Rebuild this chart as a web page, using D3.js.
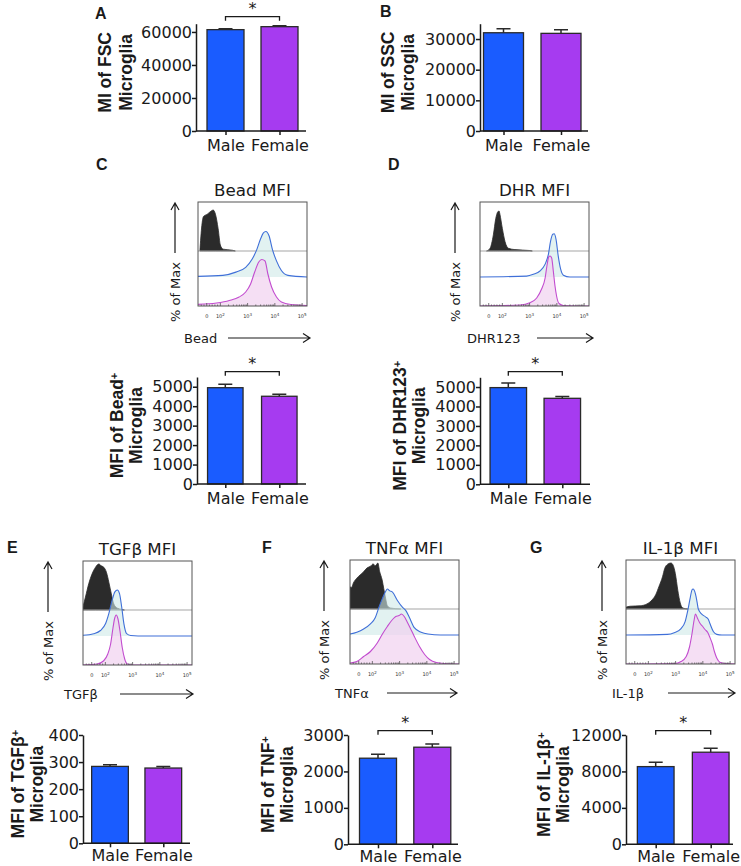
<!DOCTYPE html>
<html><head><meta charset="utf-8">
<script src="https://cdn.jsdelivr.net/npm/d3@7"></script>
<style>body{margin:0;background:#fff} svg{display:block}</style>
</head><body>
<svg id="fig" width="741" height="866"></svg>
<script>
// ---------------- DATA ----------------
const groups = ["Male", "Female"];
const barColors = ["#1a5cff", "#a63bf0"];

// bar charts (mean, SEM)
const fscMean = [61400, 63200], fscErr = [600, 500];
const sscMean = [32050, 31850], sscErr = [1300, 1200];
const beadMean = [4950, 4510], beadErr = [180, 100];
const dhrMean = [4970, 4420], dhrErr = [240, 90];
const tgfMean = [284, 278], tgfErr = [6, 6];
const tnfMean = [2363, 2665], tnfErr = [110, 90];
const il1Mean = [8530, 10110], il1Err = [480, 440];

const fscTicks = [0, 20000, 40000, 60000];
const sscTicks = [0, 10000, 20000, 30000];
const mfiTicks = [0, 1000, 2000, 3000, 4000, 5000];
const tgfTicks = [0, 100, 200, 300, 400];
const tnfTicks = [0, 1000, 2000, 3000];
const il1Ticks = [0, 4000, 8000, 12000];

// histogram axis (display decades; "0" sits at 1.5)
const histTickVals = [1.5, 2, 3, 4, 5];
const histTickLabels = ["0", "2", "3", "4", "5"];

// histograms: [display decade, % of max]
const histC_black = [[1.25,0],[1.32,55],[1.38,75],[1.52,80],[1.62,85],[1.74,89],[1.82,80],[1.92,48],[2.0,13],[2.1,4],[2.45,1.5],[2.55,0]];
const histC_blue = [[1.18,1.4],[2.09,3.5],[2.57,10.6],[2.93,21],[3.17,39],[3.34,60],[3.47,82],[3.58,96],[3.67,99],[3.79,89],[3.91,60],[4.06,35],[4.24,14],[4.48,3.5],[5.19,0]];
const histC_pink = [[1.18,3.3],[1.86,6],[2.33,11],[2.69,18],[2.93,28],[3.11,44],[3.26,68],[3.41,88],[3.52,93],[3.64,90],[3.74,65],[3.88,38],[4.06,18],[4.24,8],[4.59,3],[5.19,1]];

const histD_black = [[1.42,0],[1.55,6],[1.67,35],[1.76,71],[1.83,85],[1.88,87],[1.91,80],[2.0,49],[2.1,20],[2.22,6],[2.46,3],[3.01,1],[3.1,0]];
const histD_blue = [[1.18,0],[2.89,2],[3.14,6],[3.38,13],[3.57,28],[3.69,49],[3.77,78],[3.85,93],[3.90,94],[3.97,82],[4.05,46],[4.14,17],[4.24,4],[4.48,0],[5.19,0]];
const histD_pink = [[1.18,0],[2.65,2],[3.01,6.5],[3.26,16],[3.44,34],[3.57,56],[3.63,78],[3.71,99],[3.75,100],[3.81,96],[3.87,70],[3.93,41],[3.99,20],[4.08,5],[4.24,1],[5.19,0]];

const histE_black = [[1.18,7],[1.27,28],[1.39,57],[1.51,78],[1.64,93],[1.76,100],[1.85,96],[1.94,93],[2.04,82],[2.13,60],[2.22,35],[2.31,13],[2.44,4],[2.62,1],[2.7,0]];
const histE_blue = [[1.18,1.5],[1.57,5],[1.82,12],[2.01,27],[2.13,49],[2.25,78],[2.35,96],[2.44,100],[2.52,92],[2.60,63],[2.68,27],[2.78,5],[2.93,1],[3.2,0],[5.19,0]];
const histE_pink = [[1.18,0],[1.70,2],[1.94,8.5],[2.09,22],[2.19,41],[2.28,74],[2.34,93],[2.40,100],[2.46,93],[2.54,67],[2.62,35],[2.71,12],[2.81,2],[3.05,0],[5.19,0]];

const histF_black = [[1.18,48],[1.24,47],[1.30,56],[1.43,67],[1.55,74],[1.68,81],[1.80,89],[1.93,93],[2.03,98],[2.11,94],[2.20,100],[2.27,81],[2.36,63],[2.42,44],[2.49,22],[2.55,7],[2.67,2],[3.05,0]];
const histF_blue = [[1.18,2],[1.43,6],[1.68,13],[1.93,24],[2.11,38],[2.24,60],[2.36,78],[2.49,95],[2.55,100],[2.64,96],[2.74,93],[2.92,75],[3.11,60],[3.23,53],[3.36,38],[3.54,16],[3.79,6],[4.04,2],[4.5,0],[5.18,0]];
const histF_pink = [[1.18,2],[1.43,5],[1.68,15],[1.93,25],[2.18,42],[2.36,59],[2.55,75],[2.74,89],[2.86,95],[2.98,97],[3.07,100],[3.17,95],[3.27,85],[3.39,72],[3.54,55],[3.73,35],[3.92,19],[4.10,9],[4.35,3],[4.66,1],[5.18,0]];

const histG_black = [[1.18,4],[1.33,6],[1.70,7],[1.95,11],[2.14,20],[2.27,31],[2.39,49],[2.52,70],[2.60,88],[2.70,97],[2.83,100],[2.91,95],[2.99,77],[3.08,41],[3.17,13],[3.27,2],[3.45,0]];
const histG_blue = [[1.18,0],[2.70,1.4],[2.95,5],[3.20,14],[3.35,29],[3.45,54],[3.54,82],[3.60,98],[3.64,100],[3.73,89],[3.79,71],[3.83,57],[3.95,46],[4.11,39],[4.20,34],[4.26,25],[4.39,7],[4.51,1.4],[4.7,0],[5.18,0]];
const histG_pink = [[1.18,0],[2.95,1],[3.20,5],[3.39,15],[3.51,34],[3.60,60],[3.68,88],[3.73,100],[3.80,92],[3.89,82],[3.98,76],[4.08,69],[4.18,63],[4.26,53],[4.35,40],[4.43,24],[4.51,12],[4.64,3],[4.82,1],[5.18,0]];

// ---------------- DRAWING ----------------
const svg = d3.select("#fig");
const FONT = "'DejaVu Sans', sans-serif";
const BOLD = "'Liberation Sans', Arial, sans-serif";
const INK = "#1a1a1a";

function letter(t, x, y) {
  svg.append("text").attr("x", x).attr("y", y).text(t)
    .attr("font-family", BOLD).attr("font-weight", "bold").attr("font-size", 16).attr("fill", INK);
}

function rotTitle(x, cy, main, sup) {
  const t = svg.append("text")
    .attr("transform", `translate(${x},${cy}) rotate(-90)`)
    .attr("text-anchor", "middle").attr("dy", "0.35em")
    .attr("font-family", BOLD).attr("font-weight", "bold").attr("font-size", 17.5).attr("fill", INK);
  t.append("tspan").text(main);
  if (sup) t.append("tspan").attr("dy", "-0.5em").attr("font-size", 11).text(sup);
}

function barPanel(o) {
  const g = svg.append("g");
  const y = d3.scaleLinear().domain([0, o.max]).range([o.zeroY, o.topY]);
  const x = d3.scalePoint().domain(groups).range(o.centers);
  g.selectAll("rect.bar").data(o.values).join("rect")
    .attr("x", (d, i) => x(groups[i]) - o.barW / 2)
    .attr("y", d => y(d))
    .attr("width", o.barW)
    .attr("height", d => y(0) - y(d))
    .attr("fill", (d, i) => barColors[i])
    .attr("stroke", "#2a2a2a").attr("stroke-width", 1.3);
  g.selectAll("path.err").data(o.values).join("path")
    .attr("d", (d, i) => {
      const cx = x(groups[i]), y1 = y(d), y2 = y(d + o.errors[i]);
      return `M${cx},${y1}V${y2}M${cx - 7},${y2}H${cx + 7}`;
    })
    .attr("stroke", "#2a2a2a").attr("stroke-width", 1.5).attr("fill", "none");
  const ya = g.append("g").attr("transform", `translate(${o.axisX},0)`)
    .call(d3.axisLeft(y).tickValues(o.ticks).tickSize(4).tickPadding(0).tickSizeOuter(0).tickFormat(d3.format("d")));
  g.append("line").attr("x1", o.axisX).attr("x2", o.axisEnd).attr("y1", y(0)).attr("y2", y(0))
    .attr("stroke", INK).attr("stroke-width", 1.5);
  const xa = g.append("g").attr("transform", `translate(0,${y(0)})`)
    .call(d3.axisBottom(x).tickSize(4).tickPadding(o.xPad).tickSizeOuter(0));
  xa.select(".domain").remove();
  [ya, xa].forEach(a => {
    a.selectAll("line,path").attr("stroke", INK).attr("stroke-width", 1.5);
    a.selectAll("text").attr("font-family", FONT).attr("font-size", 16).attr("fill", INK);
  });
  if (o.sig) {
    const c1 = x(groups[0]), c2 = x(groups[1]);
    g.append("path").attr("d", `M${c1},${o.bracketY + 4}V${o.bracketY}H${c2}V${o.bracketY + 4}`)
      .attr("fill", "none").attr("stroke", INK).attr("stroke-width", 1.3);
    g.append("text").attr("x", (c1 + c2) / 2).attr("y", o.bracketY - 3).attr("text-anchor", "middle")
      .attr("font-family", FONT).attr("font-size", 16).attr("fill", INK).text("*");
  }
  rotTitle(o.t1x, (o.zeroY + o.topY) / 2 - 5, o.title1, o.sup);
  rotTitle(o.t2x, (o.zeroY + o.topY) / 2 - 5, "Microglia");
}

const HW = 109, HH = 104;
function histPanel(o) {
  const g = svg.append("g");
  const x = d3.scaleLinear().domain([1.18, 5.18]).range([o.left, o.left + HW]);
  const base = [o.top + 49, o.top + 75, o.top + HH];
  const hts = [46, 46, 50];
  const ys = base.map((b, i) => d3.scaleLinear().domain([0, 100]).range([b, b - hts[i]]));
  const clipId = "clip" + o.id;
  g.append("clipPath").attr("id", clipId).append("rect")
    .attr("x", o.left).attr("y", o.top).attr("width", HW).attr("height", HH);
  const inner = g.append("g").attr("clip-path", `url(#${clipId})`);
  const area = s => d3.area().x(d => x(d[0])).y0(s(0)).y1(d => s(d[1])).curve(d3.curveMonotoneX);
  const line = s => d3.line().x(d => x(d[0])).y(d => s(d[1])).curve(d3.curveMonotoneX);
  inner.append("path").attr("d", area(ys[0])(o.black)).attr("fill", "#2b2b2b").attr("stroke", "#2b2b2b").attr("stroke-width", 0.8);
  inner.append("line").attr("x1", o.left).attr("x2", o.left + HW).attr("y1", base[0]).attr("y2", base[0])
    .attr("stroke", "#a5a5a5").attr("stroke-width", 1);
  inner.append("path").attr("d", area(ys[1])(o.blue)).attr("fill", "#cfe9e7").attr("fill-opacity", 0.6);
  inner.append("path").attr("d", line(ys[1])(o.blue)).attr("fill", "none").attr("stroke", "#3f6fd8").attr("stroke-width", 1.1);
  inner.append("path").attr("d", area(ys[2])(o.pink)).attr("fill", "#f1d2ef").attr("fill-opacity", 0.7);
  inner.append("path").attr("d", line(ys[2])(o.pink)).attr("fill", "none").attr("stroke", "#c24ccf").attr("stroke-width", 1.1);
  g.append("rect").attr("x", o.left).attr("y", o.top).attr("width", HW).attr("height", HH)
    .attr("fill", "none").attr("stroke", "#555").attr("stroke-width", 1);
  const bottom = o.top + HH;
  const minor = [];
  [1.3, 1.4, 1.6, 1.7, 1.8, 1.9].forEach(v => minor.push(v));
  [2, 3, 4].forEach(n => d3.range(2, 10).forEach(k => minor.push(n + Math.log10(k))));
  g.selectAll("line.mn").data(minor).join("line")
    .attr("x1", d => x(d)).attr("x2", d => x(d)).attr("y1", bottom).attr("y2", bottom - 1.5)
    .attr("stroke", "#555").attr("stroke-width", 0.8);
  g.selectAll("line.mj").data(histTickVals).join("line")
    .attr("x1", d => x(d)).attr("x2", d => x(d)).attr("y1", bottom).attr("y2", bottom - 3)
    .attr("stroke", "#555").attr("stroke-width", 0.8);
  const tl = g.selectAll("text.tl").data(histTickVals).join("text")
    .attr("x", d => x(d)).attr("y", bottom + 12).attr("text-anchor", "middle")
    .attr("font-family", FONT).attr("font-size", 5).attr("fill", "#333");
  tl.each(function (d, i) {
    const t = d3.select(this);
    if (i === 0) { t.text("0"); return; }
    t.append("tspan").text("10");
    t.append("tspan").attr("dy", -2.5).attr("font-size", 4).text(histTickLabels[i]);
  });
  g.append("text").attr("x", o.left + HW / 2).attr("y", o.top - 6).attr("text-anchor", "middle")
    .attr("font-family", FONT).attr("font-size", 16.7).attr("fill", INK).text(o.title);
  g.append("path").attr("d", `M${o.yArrowX},${o.top + 51}V${o.top + 1}M${o.yArrowX - 4},${o.top + 8}L${o.yArrowX},${o.top + 1}L${o.yArrowX + 4},${o.top + 8}`)
    .attr("fill", "none").attr("stroke", INK).attr("stroke-width", 1.2);
  g.append("text").attr("transform", `translate(${o.yArrowX},${o.top + 60}) rotate(-90)`)
    .attr("text-anchor", "end").attr("dy", "0.35em")
    .attr("font-family", FONT).attr("font-size", 13).attr("fill", INK).text("% of Max");
  const ay = bottom + o.xLabDy;
  g.append("text").attr("x", o.xLabX).attr("y", ay).attr("dy", "0.35em")
    .attr("font-family", FONT).attr("font-size", 13).attr("fill", INK).text(o.xLab);
  g.append("path").attr("d", `M${o.xArr[0]},${ay}H${o.xArr[1]}M${o.xArr[1] - 7},${ay - 4.5}L${o.xArr[1]},${ay}L${o.xArr[1] - 7},${ay + 4.5}`)
    .attr("fill", "none").attr("stroke", INK).attr("stroke-width", 1.2);
}

// ---- Panel A / B
letter("A", 95, 19);
barPanel({ axisX: 196, axisEnd: 306, zeroY: 131, topY: 23.7, max: 65000, ticks: fscTicks, xPad: 4.5,
  centers: [225.5, 279.5], barW: 37, values: fscMean, errors: fscErr, sig: true, bracketY: 16.7,
  title1: "MI of FSC", t1x: 105, t2x: 126 });
letter("B", 380, 17);
barPanel({ axisX: 480, axisEnd: 588, zeroY: 131, topY: 23.7, max: 35000, ticks: sscTicks, xPad: 4.5,
  centers: [503.5, 561], barW: 40, values: sscMean, errors: sscErr, sig: false,
  title1: "MI of SSC", t1x: 388, t2x: 408 });

// ---- Panel C / D
letter("C", 96, 170);
histPanel({ id: "C", left: 198, top: 202, title: "Bead MFI", black: histC_black, blue: histC_blue, pink: histC_pink,
  yArrowX: 175, xLab: "Bead", xLabX: 184, xLabDy: 32, xArr: [228, 310] });
barPanel({ axisX: 197, axisEnd: 306, zeroY: 484, topY: 377, max: 5500, ticks: mfiTicks, xPad: 4.5,
  centers: [225.3, 279.3], barW: 35.5, values: beadMean, errors: beadErr, sig: true, bracketY: 371.7,
  title1: "MFI of Bead", sup: "+", t1x: 117, t2x: 136 });
letter("D", 388, 170);
histPanel({ id: "D", left: 480, top: 202, title: "DHR MFI", black: histD_black, blue: histD_blue, pink: histD_pink,
  yArrowX: 455, xLab: "DHR123", xLabX: 467, xLabDy: 32, xArr: [537, 593] });
barPanel({ axisX: 480, axisEnd: 590, zeroY: 484.3, topY: 377.3, max: 5500, ticks: mfiTicks, xPad: 4.5,
  centers: [508.3, 562.3], barW: 36.5, values: dhrMean, errors: dhrErr, sig: true, bracketY: 371.7,
  title1: "MFI of DHR123", sup: "+", t1x: 400, t2x: 419 });

// ---- Panel E / F / G
letter("E", 7, 553);
histPanel({ id: "E", left: 83, top: 561, title: "TGFβ MFI", black: histE_black, blue: histE_blue, pink: histE_pink,
  yArrowX: 48, xLab: "TGFβ", xLabX: 64, xLabDy: 29, xArr: [120, 193] });
barPanel({ axisX: 83, axisEnd: 190, zeroY: 843.3, topY: 735, max: 400, ticks: tgfTicks, xPad: 2.5,
  centers: [110, 163.3], barW: 36.7, values: tgfMean, errors: tgfErr, sig: false,
  title1: "MFI of TGFβ", sup: "+", t1x: 18, t2x: 37 });
letter("F", 262, 553);
histPanel({ id: "F", left: 350, top: 560, title: "TNFα MFI", black: histF_black, blue: histF_blue, pink: histF_pink,
  yArrowX: 324, xLab: "TNFα", xLabX: 335, xLabDy: 29, xArr: [387, 457] });
barPanel({ axisX: 348, axisEnd: 458, zeroY: 844.3, topY: 735, max: 3000, ticks: tnfTicks, xPad: 2.5,
  centers: [378, 432.3], barW: 37, values: tnfMean, errors: tnfErr, sig: true, bracketY: 730.7,
  title1: "MFI of TNF", sup: "+", t1x: 268, t2x: 287 });
letter("G", 530, 553);
histPanel({ id: "G", left: 626, top: 560, title: "IL-1β MFI", black: histG_black, blue: histG_blue, pink: histG_pink,
  yArrowX: 602, xLab: "IL-1β", xLabX: 612, xLabDy: 29, xArr: [668, 735] });
barPanel({ axisX: 626, axisEnd: 733, zeroY: 844.3, topY: 735, max: 12000, ticks: il1Ticks, xPad: 2.5,
  centers: [655.7, 710.7], barW: 36.7, values: il1Mean, errors: il1Err, sig: true, bracketY: 730.7,
  title1: "MFI of IL-1β", sup: "+", t1x: 544, t2x: 563 });
</script>
</body></html>
